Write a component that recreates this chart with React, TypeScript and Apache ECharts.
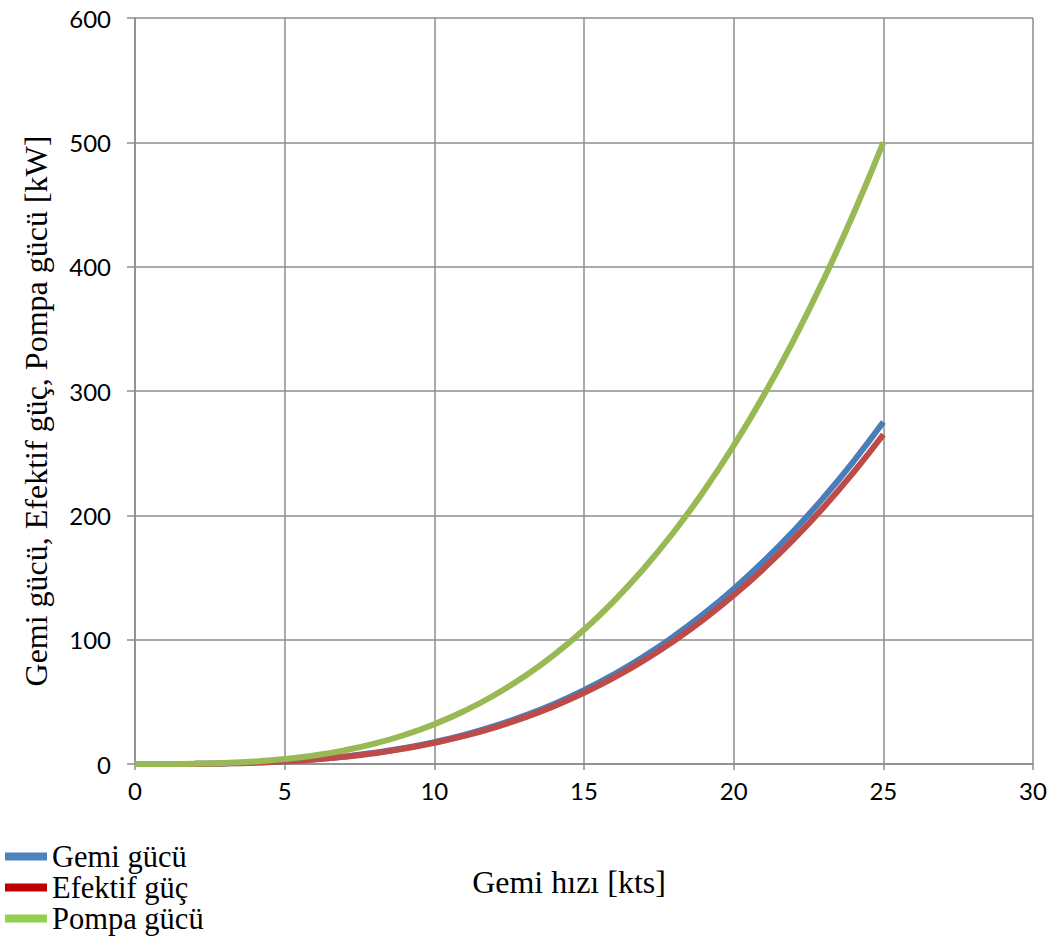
import React, { useEffect, useRef } from "react";
import * as echarts from "echarts";

const speeds = [0, 1, 2, 3, 4, 5, 6, 7, 8, 9, 10, 11, 12, 13, 14, 15, 16, 17, 18, 19, 20, 21, 22, 23, 24, 25];
const gemiGucu = [0, 0.02, 0.14, 0.48, 1.13, 2.2, 3.8, 6.04, 9.01, 12.83, 17.6, 23.43, 30.41, 38.67, 48.29, 59.4, 72.09, 86.47, 102.64, 120.72, 140.8, 163.0, 187.4, 214.14, 243.3, 275];
const efektifGuc = [0, 0.02, 0.14, 0.46, 1.09, 2.12, 3.66, 5.82, 8.68, 12.36, 16.96, 22.57, 29.31, 37.26, 46.54, 57.24, 69.47, 83.32, 98.91, 116.33, 135.68, 157.07, 180.59, 206.35, 234.46, 265];
const pompaGucu = [0, 0.03, 0.26, 0.86, 2.05, 4.0, 6.91, 10.98, 16.38, 23.33, 32, 42.59, 55.3, 70.3, 87.81, 108, 131.07, 157.22, 186.62, 219.49, 256, 296.35, 340.74, 389.34, 442.37, 500];

const seriesNames = ["Gemi gücü", "Efektif güç", "Pompa gücü"];
const lineColors = ["#4a7ebb", "#be4b48", "#98b954"];
const legendColors = ["#4f81bd", "#c00000", "#92d050"];

const xTitle = "Gemi hızı [kts]";
const yTitle = "Gemi gücü, Efektif güç, Pompa gücü [kW]";

export default function App() {
  const ref = useRef<HTMLDivElement>(null);
  useEffect(() => {
    if (!ref.current) return;
    const chart = echarts.init(ref.current, undefined, { renderer: "svg" });
    const allData = [gemiGucu, efektifGuc, pompaGucu];
    const gridColor = "#8c8c8c";
    chart.setOption({
      animation: false,
      backgroundColor: "#ffffff",
      grid: { left: 135, right: 19, top: 18, bottom: 183 },
      xAxis: {
        type: "value",
        min: 0,
        max: 30,
        interval: 5,
        axisLine: { show: true, lineStyle: { color: gridColor, width: 1.5 } },
        axisTick: { show: true, length: 6, lineStyle: { color: gridColor, width: 1.5 } },
        splitLine: { show: true, lineStyle: { color: gridColor, width: 1.5 } },
        axisLabel: { fontFamily: "Lato", fontSize: 24, color: "#000", margin: 14 },
      },
      yAxis: {
        type: "value",
        min: 0,
        max: 600,
        interval: 100,
        axisLine: { show: true, lineStyle: { color: gridColor, width: 1.5 } },
        axisTick: { show: true, length: 8, lineStyle: { color: gridColor, width: 1.5 } },
        splitLine: { show: true, lineStyle: { color: gridColor, width: 1.5 } },
        axisLabel: { fontFamily: "Lato", fontSize: 24, color: "#000", margin: 24 },
      },
      legend: {
        orient: "vertical",
        left: 5,
        top: 841,
        padding: 0,
        itemWidth: 42,
        itemHeight: 8,
        itemGap: 0,
        icon: "rect",
        textStyle: { fontFamily: "Liberation Serif", fontSize: 30.5, color: "#000", lineHeight: 31 },
        data: seriesNames.map((n, i) => ({ name: n, itemStyle: { color: legendColors[i] } })),
      },
      graphic: [
        {
          type: "text",
          x: 569,
          y: 882,
          style: {
            text: xTitle,
            font: "32px 'Liberation Serif'",
            fill: "#000",
            align: "center",
            verticalAlign: "middle",
          },
        },
        {
          type: "text",
          x: 36,
          y: 411,
          rotation: Math.PI / 2,
          style: {
            text: yTitle,
            font: "32px 'Liberation Serif'",
            fill: "#000",
            align: "center",
            verticalAlign: "middle",
          },
        },
      ],
      series: seriesNames.map((n, i) => ({
        name: n,
        type: "line",
        smooth: true,
        showSymbol: false,
        symbol: "none",
        color: lineColors[i],
        lineStyle: { width: 6, color: lineColors[i] },
        data: speeds.map((s, k) => [s, allData[i][k]]),
      })),
    });
    return () => chart.dispose();
  }, []);
  return <div ref={ref} style={{ position: "fixed", left: 0, top: 0, width: 1052, height: 947 }} />;
}
